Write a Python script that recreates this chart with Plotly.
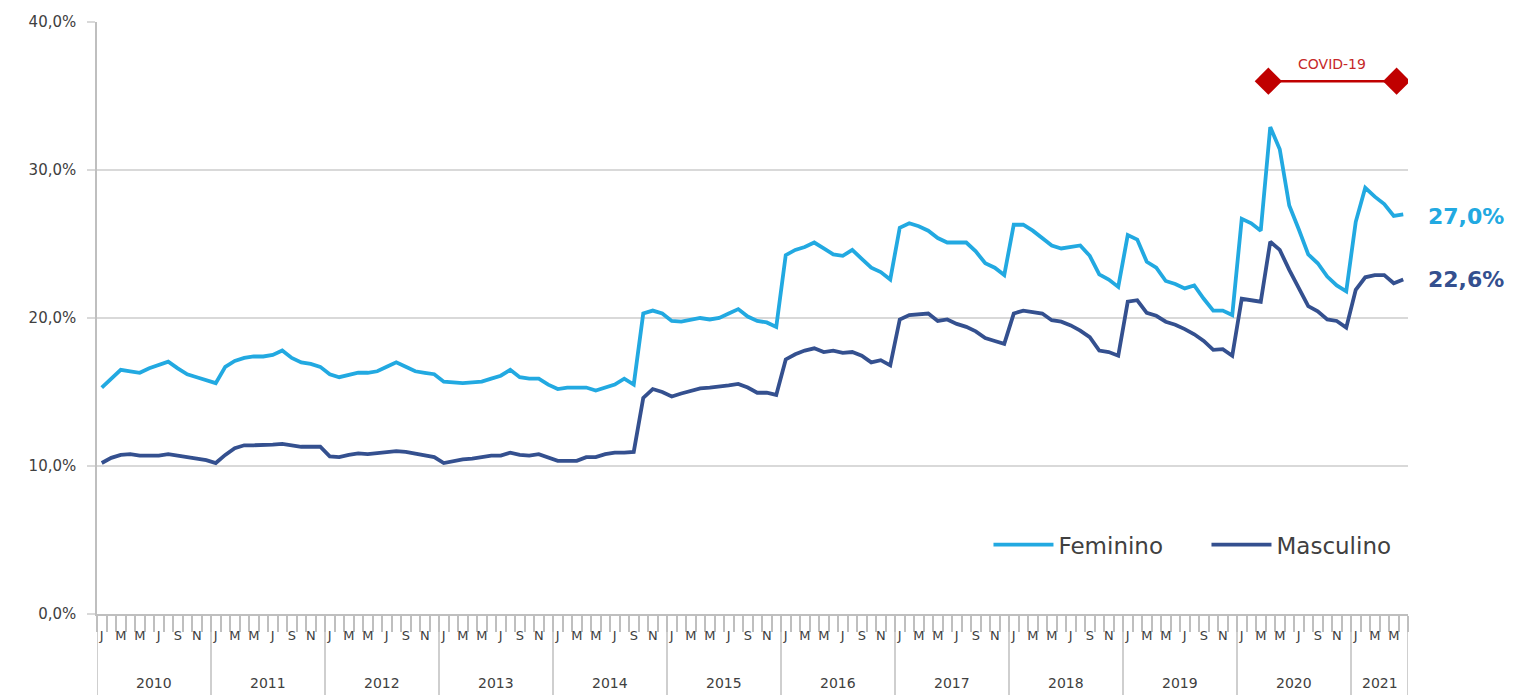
import plotly.graph_objects as go

# ---------------- data ----------------
years = [str(y) for y in range(2010, 2022)]
months_per_year = [12] * 11 + [6]
month_letters = ["J", "F", "M", "A", "M", "J", "J", "A", "S", "O", "N", "D"]

feminino = [
    # 2010
    15.3, 15.9, 16.5, 16.4, 16.3, 16.6, 16.8, 17.05, 16.6, 16.2, 16.0, 15.8,
    # 2011
    15.6, 16.7, 17.1, 17.3, 17.4, 17.4, 17.5, 17.8, 17.3, 17.0, 16.9, 16.7,
    # 2012
    16.2, 16.0, 16.15, 16.3, 16.3, 16.4, 16.7, 17.0, 16.7, 16.4, 16.3, 16.2,
    # 2013
    15.7, 15.65, 15.6, 15.65, 15.7, 15.9, 16.1, 16.5, 16.0, 15.9, 15.9, 15.5,
    # 2014
    15.2, 15.3, 15.3, 15.3, 15.1, 15.3, 15.5, 15.9, 15.5, 20.3, 20.5, 20.3,
    # 2015
    19.8, 19.75, 19.9, 20.0, 19.9, 20.0, 20.3, 20.6, 20.1, 19.8, 19.7, 19.4,
    # 2016
    24.25, 24.6, 24.8, 25.1, 24.7, 24.3, 24.2, 24.6, 24.0, 23.4, 23.1, 22.6,
    # 2017
    26.1, 26.4, 26.2, 25.9, 25.4, 25.1, 25.1, 25.1, 24.5, 23.7, 23.4, 22.9,
    # 2018
    26.3, 26.3, 25.9, 25.4, 24.9, 24.7, 24.8, 24.9, 24.2, 22.95, 22.6, 22.1,
    # 2019
    25.6, 25.3, 23.8, 23.4, 22.5, 22.3, 22.0, 22.2, 21.3, 20.5, 20.5, 20.2,
    # 2020
    26.7, 26.4, 25.9, 32.9, 31.4, 27.6, 26.0, 24.3, 23.7, 22.8, 22.2, 21.8,
    # 2021
    26.5, 28.8, 28.2, 27.7, 26.9, 27.0,
]

masculino = [
    # 2010
    10.2, 10.55, 10.75, 10.8, 10.7, 10.7, 10.7, 10.8, 10.7, 10.55, 10.5, 10.4,
    # 2011
    10.2, 10.75, 11.2, 11.4, 11.4, 11.4, 11.45, 11.5, 11.4, 11.3, 11.3, 11.3,
    # 2012
    10.65, 10.6, 10.75, 10.85, 10.8, 10.85, 10.95, 11.0, 10.95, 10.85, 10.75, 10.6,
    # 2013
    10.2, 10.35, 10.45, 10.5, 10.6, 10.7, 10.7, 10.9, 10.75, 10.7, 10.8, 10.6,
    # 2014
    10.35, 10.35, 10.35, 10.6, 10.6, 10.8, 10.9, 10.9, 10.95, 14.6, 15.2, 15.0,
    # 2015
    14.7, 14.9, 15.1, 15.25, 15.3, 15.35, 15.45, 15.55, 15.3, 14.95, 14.95, 14.8,
    # 2016
    17.2, 17.55, 17.8, 17.95, 17.7, 17.8, 17.65, 17.7, 17.45, 17.0, 17.15, 16.8,
    # 2017
    19.9, 20.2, 20.25, 20.3, 19.8, 19.9, 19.6, 19.4, 19.1, 18.65, 18.45, 18.25,
    # 2018
    20.3, 20.5, 20.4, 20.3, 19.85, 19.75, 19.5, 19.15, 18.7, 17.8, 17.7, 17.45,
    # 2019
    21.1, 21.2, 20.35, 20.15, 19.75, 19.55, 19.25, 18.9, 18.45, 17.85, 17.9, 17.45,
    # 2020
    21.3, 21.2, 21.1, 25.15, 24.6, 23.25, 22.0, 20.8, 20.45, 19.9, 19.8, 19.35,
    # 2021
    21.9, 22.75, 22.9, 22.9, 22.35, 22.6,
]

y_tick_values = [0, 10, 20, 30, 40]
y_tick_labels = ["0,0%", "10,0%", "20,0%", "30,0%", "40,0%"]

covid_label = "COVID-19"
covid_level = 36.0

# ---------------- styling ----------------
C_FEM = "#22A9E1"
C_MASC = "#34508F"
C_RED = "#C00000"
C_AXIS = "#BFBFBF"
C_GRID = "#D9D9D9"
C_TEXT = "#404040"
FONT = "DejaVu Sans"

n = len(feminino)
x_idx = list(range(n))
month_text = []
for ny in months_per_year:
    month_text.extend(month_letters[:ny])

label_pos = [i for i in x_idx if i % 2 == 0]
label_txt = [month_text[i] for i in label_pos]

bounds = [-0.5]
for ny in months_per_year:
    bounds.append(bounds[-1] + ny)

fig = go.Figure()

fig.add_trace(go.Scatter(
    x=x_idx, y=feminino, mode="lines", name="Feminino",
    line=dict(color=C_FEM, width=3.8),
))
fig.add_trace(go.Scatter(
    x=x_idx, y=masculino, mode="lines", name="Masculino",
    line=dict(color=C_MASC, width=3.8),
))

# COVID-19 period marker
covid_x = [122.8, 136.3]
fig.add_trace(go.Scatter(
    x=covid_x, y=[covid_level, covid_level], mode="lines+markers",
    line=dict(color=C_RED, width=2.5),
    marker=dict(symbol="diamond", size=21, color=C_RED),
    showlegend=False, hoverinfo="skip",
))

shapes = []
for b in bounds:
    shapes.append(dict(
        type="line", xref="x", yref="paper", x0=b, x1=b, y0=0, y1=-0.14,
        line=dict(color=C_AXIS, width=1.5),
    ))

annotations = []
for k, yname in enumerate(years):
    cx = (bounds[k] + bounds[k + 1]) / 2
    annotations.append(dict(
        x=cx, y=-0.117, xref="x", yref="paper", text=yname, showarrow=False,
        font=dict(family=FONT, size=14, color=C_TEXT), yanchor="middle",
    ))

def pct(v):
    return f"{v:.1f}".replace(".", ",") + "%"

annotations.append(dict(
    x=1, y=feminino[-1], xref="paper", yref="y", xanchor="left", xshift=18, yshift=-2,
    text=f"<b>{pct(feminino[-1])}</b>", showarrow=False,
    font=dict(family=FONT, size=22, color=C_FEM),
))
annotations.append(dict(
    x=1, y=masculino[-1], xref="paper", yref="y", xanchor="left", xshift=18, yshift=0,
    text=f"<b>{pct(masculino[-1])}</b>", showarrow=False,
    font=dict(family=FONT, size=22, color=C_MASC),
))
annotations.append(dict(
    x=(covid_x[0] + covid_x[1]) / 2, y=covid_level, xref="x", yref="y",
    yshift=17, text=covid_label, showarrow=False,
    font=dict(family=FONT, size=14, color="#C62828"),
))

fig.update_layout(
    width=1513, height=695,
    margin=dict(l=97, r=105, t=22, b=81),
    paper_bgcolor="white", plot_bgcolor="white",
    font=dict(family=FONT, color=C_TEXT),
    showlegend=True,
    legend=dict(
        orientation="h", x=0.68, y=0.117, xanchor="left", yanchor="middle",
        font=dict(family=FONT, size=23, color=C_TEXT),
        bgcolor="rgba(0,0,0,0)", itemwidth=60, tracegroupgap=0,
        entrywidth=143, entrywidthmode="pixels",
    ),
    shapes=shapes,
    annotations=annotations,
    xaxis=dict(
        range=[-0.5, n - 0.5], tickmode="array", tickvals=label_pos, ticktext=label_txt,
        ticks="", showgrid=False, zeroline=False,
        showline=True, linecolor=C_AXIS, linewidth=1.5,
        tickfont=dict(family=FONT, size=13, color=C_TEXT),
        ticklabelstandoff=9,
        minor=dict(tickvals=[i - 0.5 for i in range(0, n + 1)],
                   ticks="outside", ticklen=16, tickwidth=1.5, tickcolor=C_AXIS,
                   showgrid=False),
    ),
    yaxis=dict(
        range=[0, 40], tickmode="array", tickvals=y_tick_values, ticktext=y_tick_labels,
        showgrid=True, gridcolor=C_GRID, gridwidth=1.5, zeroline=False,
        showline=True, linecolor=C_AXIS, linewidth=1.5,
        ticks="outside", ticklen=8, tickcolor=C_GRID, tickwidth=1.5,
        tickfont=dict(family=FONT, size=15, color=C_TEXT),
        ticklabelstandoff=8,
    ),
)

fig.write_html(
    "out.html",
    config={"displayModeBar": False},
    post_script="document.body.style.margin='0px';document.body.style.padding='0px';document.body.style.overflow='hidden';",
)
